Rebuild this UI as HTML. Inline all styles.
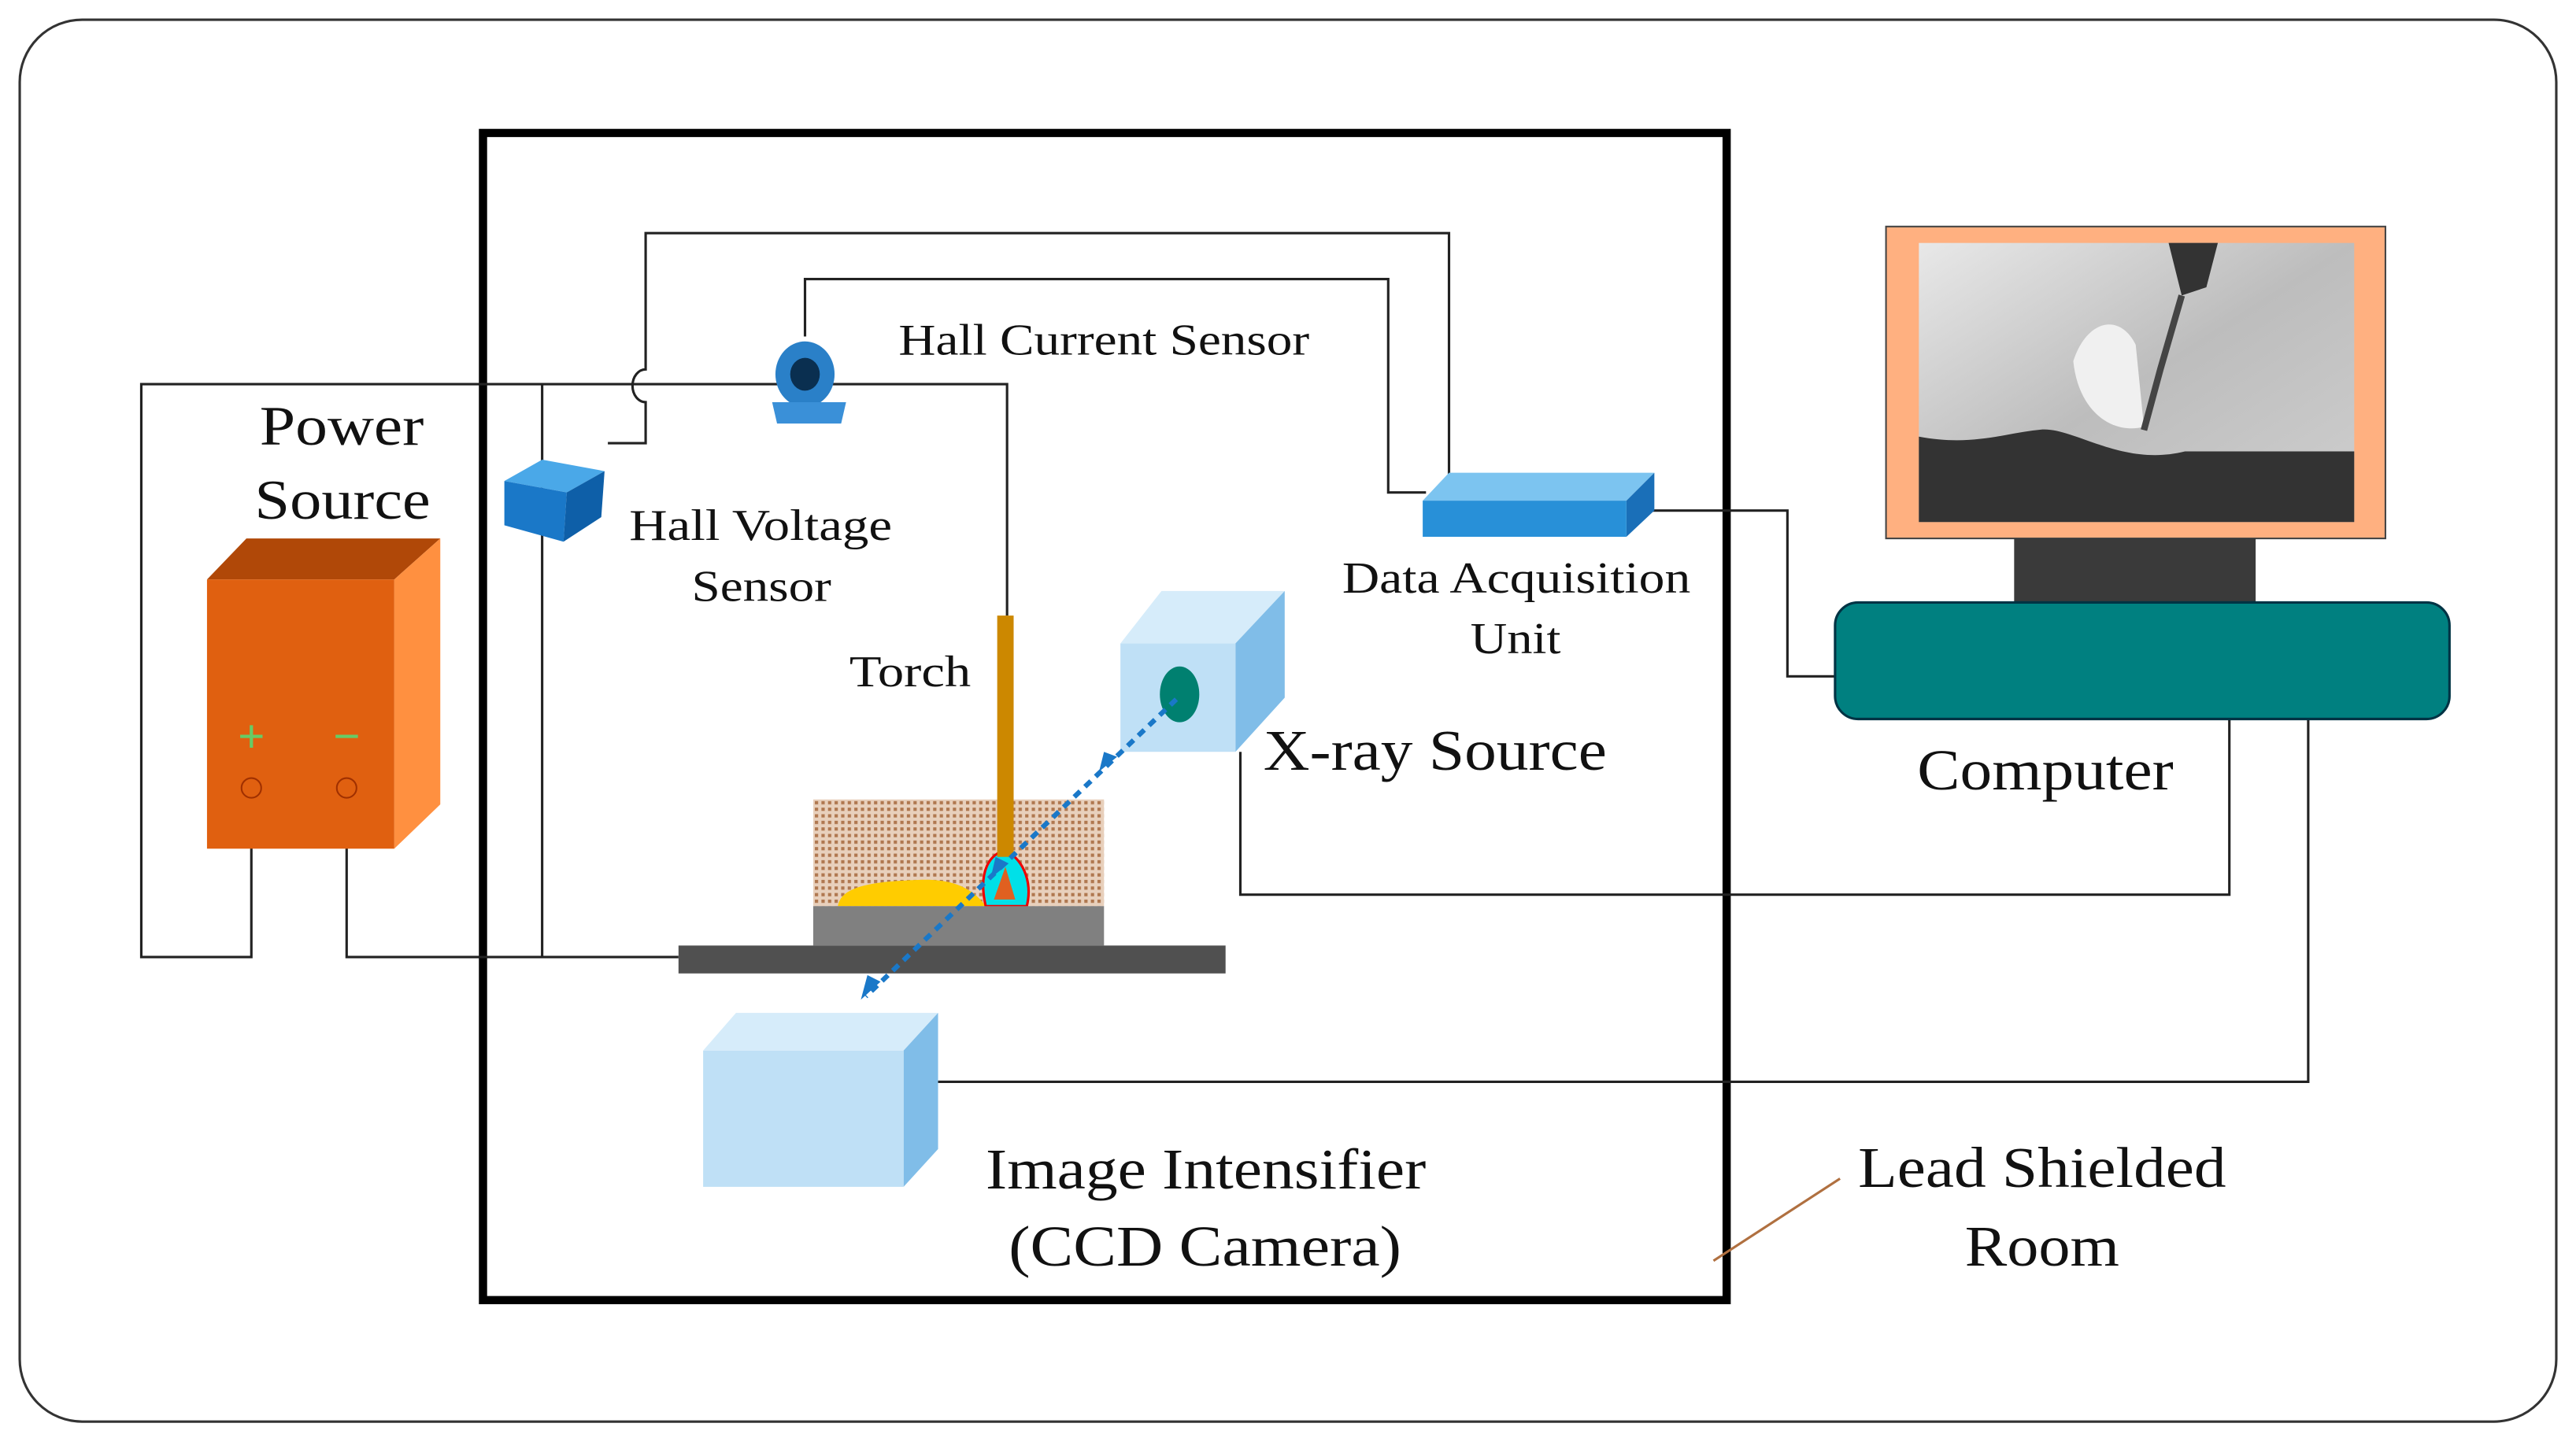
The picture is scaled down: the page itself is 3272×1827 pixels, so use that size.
<!DOCTYPE html>
<html><head><meta charset="utf-8"><style>html,body{margin:0;padding:0;background:#fff}svg{display:block}</style></head>
<body>
<svg width="3272" height="1827" viewBox="0 0 1568 876" preserveAspectRatio="none" xmlns="http://www.w3.org/2000/svg" font-family="'Liberation Serif', serif">
<defs>
<pattern id="hatch" width="4" height="4" patternUnits="userSpaceOnUse"><rect width="4" height="4" fill="#e8d0bc"/><rect width="2" height="2" fill="#b07850"/></pattern>
<linearGradient id="noise" x1="0" y1="0" x2="1" y2="1"><stop offset="0" stop-color="#e8e8e8"/><stop offset="0.5" stop-color="#bdbdbd"/><stop offset="1" stop-color="#cfcfcf"/></linearGradient>
</defs>
<rect x="12" y="12" width="1544" height="854" rx="38" fill="#fff" stroke="#333" stroke-width="1.5"/>
<rect x="294" y="81" width="757" height="711" fill="none" stroke="#000" stroke-width="5"/>
<g fill="none" stroke="#222" stroke-width="1.5">
<path d="M153,480 V583 H86 V234 H613 V375"/>
<path d="M211,480 V583 H413"/>
<path d="M330,234 V583"/>
<path d="M370,270 H393 V245 A8,10 0 0 1 393,225 V142 H882 V290"/>
<path d="M490,205 V170 H845 V300 H868"/>
<path d="M1005,311 H1088 V412 H1117"/>
<path d="M755,458 V545 H1357 V438"/>
<path d="M571,659 H1405 V438"/>
</g>
<path d="M1043,768 L1120,718" stroke="#b07040" stroke-width="1.5"/>
<polygon points="126,353 150,328 268,328 240,353" fill="#b04808"/>
<polygon points="240,353 268,328 268,490 240,517" fill="#ff9040"/>
<rect x="126" y="353" width="114" height="164" fill="#e06010"/>
<text x="153" y="458" font-size="28" fill="#6c6" text-anchor="middle" font-family="'Liberation Sans',sans-serif">+</text>
<text x="211" y="458" font-size="28" fill="#6c6" text-anchor="middle" font-family="'Liberation Sans',sans-serif">−</text>
<circle cx="153" cy="480" r="6" fill="none" stroke="#a03000"/>
<circle cx="211" cy="480" r="6" fill="none" stroke="#a03000"/>
<polygon points="307,293 330,280 368,287 345,300" fill="#4aa8e8"/>
<polygon points="307,293 345,300 343,330 307,320" fill="#1a78c8"/>
<polygon points="345,300 368,287 366,315 343,330" fill="#0e5fa8"/>
<ellipse cx="490" cy="228" rx="18" ry="20" fill="#2a80c8"/>
<ellipse cx="490" cy="228" rx="9" ry="10" fill="#0a2f50"/>
<polygon points="470,245 515,245 512,258 473,258" fill="#3a90d8"/>
<polygon points="866,305 882,288 1007,288 990,305" fill="#7cc4f0"/>
<polygon points="990,305 1007,288 1007,311 990,327" fill="#1a6fb8"/>
<rect x="866" y="305" width="124" height="22" fill="#2890d8"/>
<rect x="1148" y="138" width="304" height="190" fill="#ffb080" stroke="#444" stroke-width="1"/>
<rect x="1168" y="148" width="265" height="170" fill="url(#noise)"/>
<path d="M1168,266 C1200,272 1220,264 1240,262 C1260,258 1290,285 1330,275 L1433,275 V318 H1168 Z" fill="#333"/>
<path d="M1262,220 C1270,195 1290,190 1300,210 L1305,260 C1285,265 1265,250 1262,220Z" fill="#f0f0f0"/>
<path d="M1320,148 L1350,148 L1343,175 L1328,180 Z" fill="#333"/>
<path d="M1328,180 L1315,225 L1305,262" stroke="#444" stroke-width="4" fill="none"/>
<rect x="1226" y="328" width="147" height="39" fill="#3a3a3a"/>
<rect x="1117" y="367" width="374" height="71" rx="14" fill="#008080" stroke="#034" stroke-width="1.5"/>
<rect x="495" y="487" width="177" height="65" fill="url(#hatch)"/>
<path d="M510,552 C512,540 530,537 560,536 C585,535 595,545 600,552Z" fill="#ffcc00"/>
<path d="M600,552 C595,530 603,520 612,518 C625,525 628,540 625,552Z" fill="#00e0e8" stroke="#e00" stroke-width="1.5"/>
<polygon points="605,548 612,528 618,548" fill="#e06020"/>
<rect x="495" y="552" width="177" height="24" fill="#808080"/>
<rect x="413" y="576" width="333" height="17" fill="#505050"/>
<rect x="607" y="375" width="10" height="147" fill="#cc8800"/>
<polygon points="682,392 707,360 782,360 752,392" fill="#d6ecfa"/>
<polygon points="752,392 782,360 782,425 752,458" fill="#80bde8"/>
<rect x="682" y="392" width="70" height="66" fill="#bfe0f6"/>
<ellipse cx="718" cy="423" rx="12" ry="17" fill="#008070"/>
<polygon points="428,640 448,617 571,617 550,640" fill="#d6ecfa"/>
<polygon points="550,640 571,617 571,700 550,723" fill="#80bde8"/>
<rect x="428" y="640" width="122" height="83" fill="#bfe0f6"/>
<path d="M716,426 L527,607" stroke="#1a78c8" stroke-width="3" stroke-dasharray="5,4" fill="none"/>
<polygon points="669,470 680,461 672,458" fill="#1a78c8"/>
<polygon points="603,535 614,526 606,522" fill="#1a78c8"/>
<polygon points="524,609 536,598 528,594" fill="#1a78c8"/>
<g fill="#111" lengthAdjust="spacingAndGlyphs">
<text x="158" y="271" font-size="34" textLength="100" lengthAdjust="spacingAndGlyphs">Power</text>
<text x="155" y="316" font-size="34" textLength="107" lengthAdjust="spacingAndGlyphs">Source</text>
<text x="547" y="216" font-size="27" textLength="250" lengthAdjust="spacingAndGlyphs">Hall Current Sensor</text>
<text x="383" y="329" font-size="27" textLength="160" lengthAdjust="spacingAndGlyphs">Hall Voltage</text>
<text x="421" y="366" font-size="27" textLength="85" lengthAdjust="spacingAndGlyphs">Sensor</text>
<text x="517" y="418" font-size="27" textLength="74" lengthAdjust="spacingAndGlyphs">Torch</text>
<text x="817" y="361" font-size="27" textLength="212" lengthAdjust="spacingAndGlyphs">Data Acquisition</text>
<text x="895" y="398" font-size="27" textLength="55" lengthAdjust="spacingAndGlyphs">Unit</text>
<text x="769" y="469" font-size="35" textLength="209" lengthAdjust="spacingAndGlyphs">X-ray Source</text>
<text x="1167" y="481" font-size="35" textLength="156" lengthAdjust="spacingAndGlyphs">Computer</text>
<text x="600" y="724" font-size="35" textLength="268" lengthAdjust="spacingAndGlyphs">Image Intensifier</text>
<text x="614" y="771" font-size="35" textLength="239" lengthAdjust="spacingAndGlyphs">(CCD Camera)</text>
<text x="1131" y="723" font-size="35" textLength="224" lengthAdjust="spacingAndGlyphs">Lead Shielded</text>
<text x="1196" y="771" font-size="35" textLength="94" lengthAdjust="spacingAndGlyphs">Room</text>
</g>
</svg>
</body></html>
